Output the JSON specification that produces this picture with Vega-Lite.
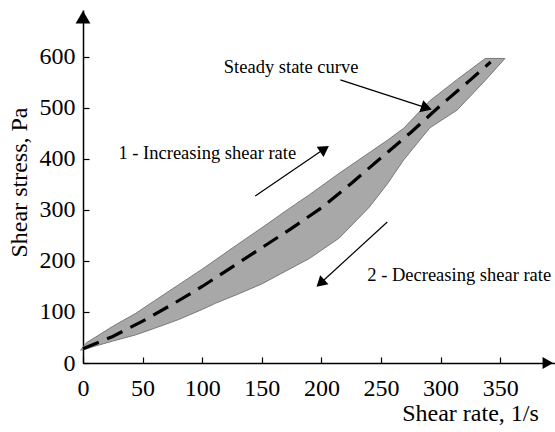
{
  "$schema": "https://vega.github.io/schema/vega-lite/v6.json",
  "width": 472,
  "height": 353,
  "autosize": {"type": "none"},
  "padding": {"left": 83, "top": 10, "right": 0, "bottom": 69},
  "background": "white",
  "config": {
    "view": {"stroke": null},
    "axis": {
      "grid": false,
      "domainColor": "black",
      "domainWidth": 1.5,
      "tickColor": "black",
      "tickWidth": 1.2,
      "labelFlush": false,
      "labelFont": "Liberation Serif",
      "labelFontSize": 24,
      "labelColor": "black",
      "titleFont": "Liberation Serif",
      "titleFontSize": 24,
      "titleFontWeight": "normal",
      "titleColor": "black"
    }
  },
  "datasets": {
    "band": [
      {"rate": -2, "upper": 25, "lower": 25},
      {"rate": 3, "upper": 40, "lower": 28},
      {"rate": 10, "upper": 50, "lower": 33},
      {"rate": 25, "upper": 72, "lower": 43},
      {"rate": 44, "upper": 97, "lower": 55},
      {"rate": 60, "upper": 122, "lower": 68},
      {"rate": 80, "upper": 153, "lower": 85},
      {"rate": 100, "upper": 184, "lower": 105},
      {"rate": 111, "upper": 202, "lower": 117},
      {"rate": 130, "upper": 233, "lower": 135},
      {"rate": 150, "upper": 265, "lower": 155},
      {"rate": 170, "upper": 298, "lower": 180},
      {"rate": 190, "upper": 330, "lower": 205},
      {"rate": 215, "upper": 372, "lower": 245},
      {"rate": 240, "upper": 412, "lower": 305},
      {"rate": 255, "upper": 436, "lower": 350},
      {"rate": 269, "upper": 460, "lower": 398},
      {"rate": 291, "upper": 514, "lower": 461},
      {"rate": 314, "upper": 556, "lower": 496},
      {"rate": 337.5, "upper": 597, "lower": 554},
      {"rate": 354, "upper": 597, "lower": 597}
    ],
    "steady": [
      {"rate": 0, "stress": 28},
      {"rate": 25, "stress": 52},
      {"rate": 50, "stress": 82},
      {"rate": 75, "stress": 115},
      {"rate": 100, "stress": 150},
      {"rate": 125, "stress": 188},
      {"rate": 150, "stress": 226},
      {"rate": 175, "stress": 264},
      {"rate": 200, "stress": 304},
      {"rate": 225, "stress": 352},
      {"rate": 250, "stress": 402},
      {"rate": 275, "stress": 452},
      {"rate": 300, "stress": 505},
      {"rate": 325, "stress": 555},
      {"rate": 342, "stress": 590}
    ],
    "shafts": [
      {"x1": 215.9, "y1": 554.9, "x2": 288.2, "y2": 500.2},
      {"x1": 144.5, "y1": 327.5, "x2": 202.6, "y2": 419.8},
      {"x1": 255.3, "y1": 276.5, "x2": 199.2, "y2": 156.3}
    ],
    "notes": [
      {"x": 174.6, "y": 580, "label": "Steady state curve"},
      {"x": 104.3, "y": 412, "label": "1 - Increasing shear rate"}
    ],
    "notes2": [
      {"x": 238.5, "y": 172.5, "label": "2 - Decreasing shear rate"}
    ]
  },
  "layer": [
    {
      "data": {"name": "band"},
      "mark": {"type": "area", "fill": "#a8a8a8", "stroke": "#7a7a7a", "strokeWidth": 1},
      "encoding": {
        "x": {
          "field": "rate", "type": "quantitative",
          "scale": {"domain": [0, 396], "nice": false, "zero": false},
          "axis": {
            "values": [0, 50, 100, 150, 200, 250, 300, 350],
            "tickSize": -6,
            "labelPadding": 19,
            "title": "Shear rate, 1/s",
            "titleX": 387,
            "titleY": 50,
            "titleAlign": "center",
            "titleBaseline": "middle"
          }
        },
        "y": {
          "field": "upper", "type": "quantitative",
          "scale": {"domain": [0, 692], "nice": false},
          "axis": {
            "values": [0, 100, 200, 300, 400, 500, 600],
            "tickSize": -6,
            "labelPadding": 14,
            "title": "Shear stress, Pa",
            "titleX": -64,
            "titleY": 172,
            "titleAngle": -90,
            "titleAlign": "center",
            "titleBaseline": "middle"
          }
        },
        "y2": {"field": "lower"}
      }
    },
    {
      "data": {"name": "steady"},
      "mark": {"type": "line", "color": "black", "strokeWidth": 3.2, "strokeDash": [17, 9]},
      "encoding": {
        "x": {"field": "rate", "type": "quantitative"},
        "y": {"field": "stress", "type": "quantitative"}
      }
    },
    {
      "data": {"name": "shafts"},
      "mark": {"type": "rule", "color": "black", "strokeWidth": 1.2},
      "encoding": {
        "x": {"field": "x1", "type": "quantitative"},
        "y": {"field": "y1", "type": "quantitative"},
        "x2": {"field": "x2"},
        "y2": {"field": "y2"}
      }
    },
    {
      "data": {"values": [{"x": 288.2, "y": 500.2}]},
      "mark": {"type": "point", "shape": "triangle-up", "filled": true, "color": "black", "opacity": 1, "size": 160, "angle": 108},
      "encoding": {"x": {"field": "x", "type": "quantitative"}, "y": {"field": "y", "type": "quantitative"}}
    },
    {
      "data": {"values": [{"x": 202.6, "y": 419.8}]},
      "mark": {"type": "point", "shape": "triangle-up", "filled": true, "color": "black", "opacity": 1, "size": 150, "angle": 56},
      "encoding": {"x": {"field": "x", "type": "quantitative"}, "y": {"field": "y", "type": "quantitative"}}
    },
    {
      "data": {"values": [{"x": 199.2, "y": 156.3}]},
      "mark": {"type": "point", "shape": "triangle-up", "filled": true, "color": "black", "opacity": 1, "size": 150, "angle": 227.5},
      "encoding": {"x": {"field": "x", "type": "quantitative"}, "y": {"field": "y", "type": "quantitative"}}
    },
    {
      "data": {"values": [{"x": 0, "y": 678}]},
      "mark": {"type": "point", "shape": "triangle-up", "filled": true, "color": "black", "opacity": 1, "size": 220, "angle": 0},
      "encoding": {"x": {"field": "x", "type": "quantitative"}, "y": {"field": "y", "type": "quantitative"}}
    },
    {
      "data": {"values": [{"x": 390, "y": 0}]},
      "mark": {"type": "point", "shape": "triangle-up", "filled": true, "color": "black", "opacity": 1, "size": 150, "angle": 90},
      "encoding": {"x": {"field": "x", "type": "quantitative"}, "y": {"field": "y", "type": "quantitative"}}
    },
    {
      "data": {"name": "notes"},
      "mark": {"type": "text", "font": "Liberation Serif", "fontSize": 18.5, "color": "black", "align": "center", "baseline": "middle"},
      "encoding": {
        "x": {"field": "x", "type": "quantitative"},
        "y": {"field": "y", "type": "quantitative"},
        "text": {"field": "label"}
      }
    },
    {
      "data": {"name": "notes2"},
      "mark": {"type": "text", "font": "Liberation Serif", "fontSize": 18.5, "color": "black", "align": "left", "baseline": "middle"},
      "encoding": {
        "x": {"field": "x", "type": "quantitative"},
        "y": {"field": "y", "type": "quantitative"},
        "text": {"field": "label"}
      }
    }
  ]
}
